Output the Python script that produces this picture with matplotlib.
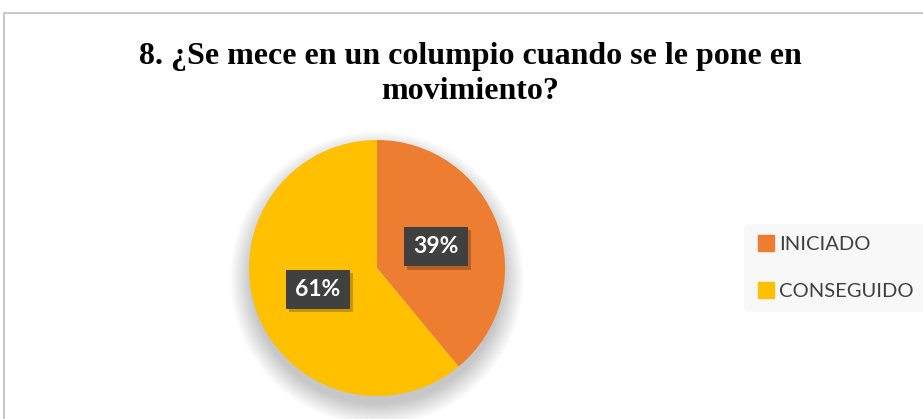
import matplotlib.pyplot as plt
import matplotlib.patches as mpatches
from matplotlib.lines import Line2D
import numpy as np

# data
categorias = ['INICIADO', 'CONSEGUIDO']
porcentajes = [39, 61]
colores = ['#ED7D31', '#FFC000']
titulo = '8. ¿Se mece en un columpio cuando se le pone en\nmovimiento?'

W, H = 923, 419
fig = plt.figure(figsize=(W / 100, H / 100), dpi=100)
fig.patch.set_facecolor('white')

# chart border (cut off at right and bottom)
fig.patches.append(mpatches.Rectangle((4 / W, -0.05), 1.0, 1 - 13 / H + 0.05,
                                      transform=fig.transFigure, fill=False,
                                      edgecolor='#BFBFBF', lw=1.2))

fig.text(470 / W, 1 - 74 / H, titulo, ha='center', va='center',
         family='Liberation Serif', fontweight='bold', fontsize=23,
         linespacing=1.3, color='black')

# pie axes, centre (377, 268) px, radius 128 px
cx, cy, r, half = 377, 268, 128, 170
ax = fig.add_axes([(cx - half) / W, (H - cy - half) / H, 2 * half / W, 2 * half / H])

wedges, _ = ax.pie(porcentajes, colors=colores, startangle=90, counterclock=False,
                   radius=1.0, wedgeprops=dict(lw=0))
for w in wedges:
    w.set_zorder(2)

lim = half / r
ax.set_xlim(-lim, lim)
ax.set_ylim(-lim, lim)
ax.set_aspect('equal')
ax.axis('off')

# soft shadow, mostly below the pie
for i in range(14):
    rad = 0.99 + 0.012 * i
    ax.add_patch(mpatches.Circle((0, -0.08), rad, color='#000000', alpha=0.014, lw=0, zorder=0))

# data labels
ang = 90.0
for v, w in zip(porcentajes, wedges):
    mid = np.deg2rad(ang - v * 3.6 / 2)
    ang -= v * 3.6
    x, y = 0.49 * np.cos(mid), 0.49 * np.sin(mid)
    ax.text(x + 0.025, y - 0.025, f'{v}%', ha='center', va='center', fontsize=16.5,
            fontweight='bold', family='Lato', color='#404040', alpha=0.0,
            bbox=dict(boxstyle='square,pad=0.4', fc='#000000', ec='none', alpha=0.22),
            zorder=3)
    ax.text(x, y, f'{v}%', ha='center', va='center', fontsize=16.5, fontweight='bold',
            family='Lato', color='white',
            bbox=dict(boxstyle='square,pad=0.4', fc='#404040', ec='none'), zorder=4)

handles = [Line2D([0], [0], marker='s', ls='none', markersize=11, markerfacecolor=c,
                  markeredgecolor=c) for c in colores]
leg = fig.legend(handles, categorias, loc='center left',
                 bbox_to_anchor=(734 / W, 1 - 268 / H), frameon=True,
                 prop=dict(family='Lato', size=14.5), handletextpad=0.15,
                 handlelength=1.0, labelspacing=1.45, borderpad=0.6)
leg.get_frame().set_facecolor('#F8F8F8')
leg.get_frame().set_edgecolor('none')
leg.get_frame().set_alpha(1)
for t in leg.get_texts():
    t.set_color('#404040')

fig.savefig('out.png', dpi=100)
